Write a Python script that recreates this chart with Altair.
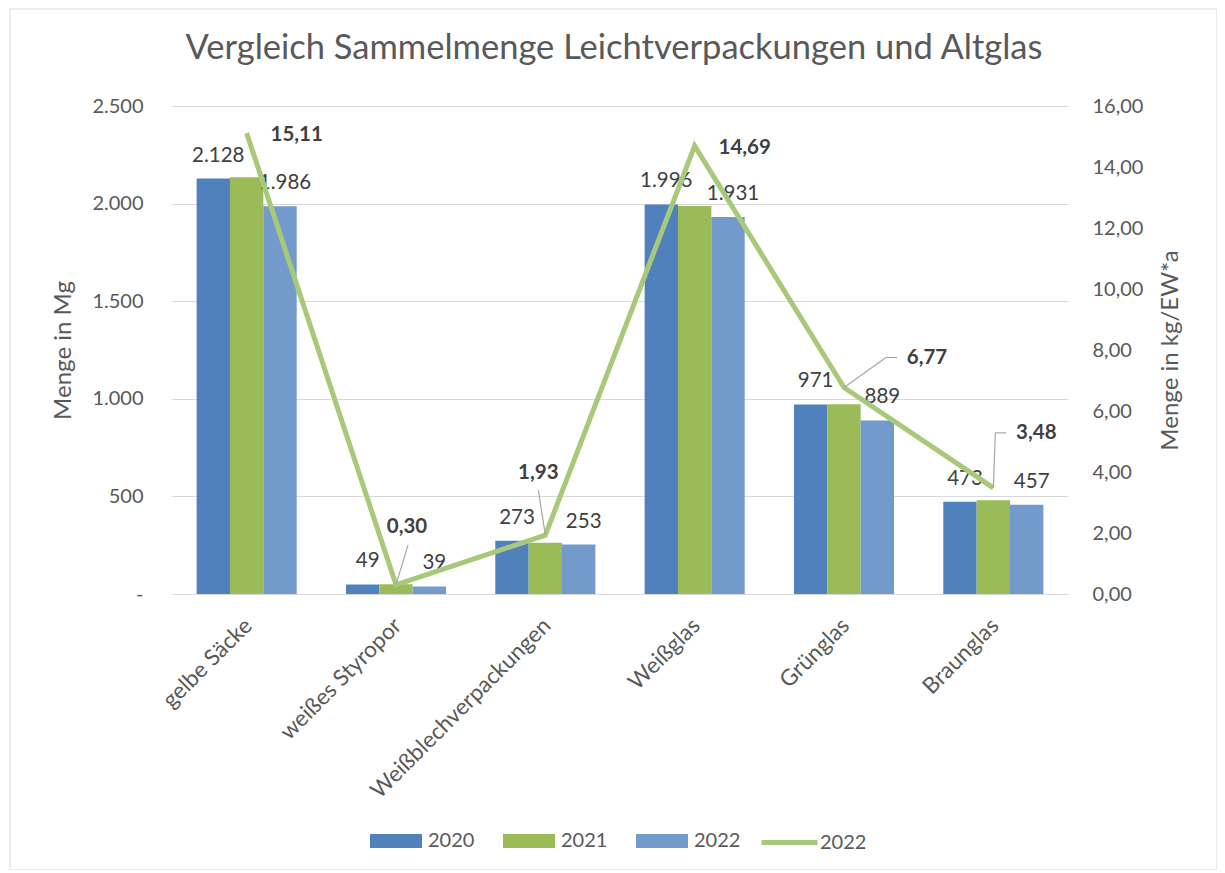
import altair as alt
import pandas as pd

categories = ["gelbe Säcke", "weißes Styropor", "Weißblechverpackungen", "Weißglas", "Grünglas", "Braunglas"]
years = ["2020", "2021", "2022"]
mg_2020 = [2128, 49, 273, 1996, 971, 473]
mg_2021 = [2135, 50, 263, 1988, 972, 480]
mg_2022 = [1986, 39, 253, 1931, 889, 457]
kg_ew_2022 = [15.11, 0.30, 1.93, 14.69, 6.77, 3.48]

bar_colors = ["#4F81BD", "#9BBB59", "#729ACA"]
line_color = "#A9C97A"
FONT = "Lato"

rows = []
for yr, vals in zip(years, [mg_2020, mg_2021, mg_2022]):
    for c, v in zip(categories, vals):
        rows.append({"Kategorie": c, "Jahr": yr, "Menge": v})
bars_df = pd.DataFrame(rows)
line_df = pd.DataFrame({"Kategorie": categories, "kg": kg_ew_2022, "Serie": ["2022"] * len(categories)})

x_enc = alt.X(
    "Kategorie:N", sort=categories, title=None,
    scale=alt.Scale(paddingInner=0.33, paddingOuter=0.165),
    axis=alt.Axis(labelAngle=-45, labelFontSize=22.5, labelColor="#595959", labelPadding=20,
                  labelOffset=-6, ticks=False, domainColor="#D9D9D9", domainWidth=1, labelLimit=400),
)
xoff = alt.XOffset("Jahr:N", sort=years, scale=alt.Scale(paddingInner=0, paddingOuter=0))

y_left = alt.Y(
    "Menge:Q", scale=alt.Scale(domain=[0, 2500], nice=False),
    axis=alt.Axis(title="Menge in Mg", values=[0, 500, 1000, 1500, 2000, 2500],
                  labelExpr="datum.value == 0 ? '-' : replace(format(datum.value, ','), ',', '.')",
                  grid=True, gridColor="#D9D9D9", domain=False, ticks=False,
                  labelPadding=29, titlePadding=16, labelFontSize=20, titleFontSize=24,
                  labelColor="#595959", titleColor="#595959", titleFontWeight="normal"),
)
y_right = alt.Y(
    "kg:Q", scale=alt.Scale(domain=[0, 16], nice=False),
    axis=alt.Axis(title="Menge in kg/EW*a", orient="right", values=[0, 2, 4, 6, 8, 10, 12, 14, 16],
                  labelExpr="replace(format(datum.value, '.2f'), '.', ',')",
                  grid=False, domain=False, ticks=False, titleAngle=270,
                  labelPadding=24, titlePadding=40, labelFontSize=20, titleFontSize=24,
                  labelColor="#595959", titleColor="#595959", titleFontWeight="normal"),
)

bars = alt.Chart(bars_df).mark_bar().encode(
    x=x_enc, xOffset=xoff, y=y_left,
    color=alt.Color("Jahr:N", scale=alt.Scale(domain=years, range=bar_colors),
                    legend=alt.Legend(title=None, orient="none", legendX=198, legendY=709,
                                      direction="horizontal",
                                      symbolType="M-1,-0.27L1,-0.27L1,0.27L-1,0.27Z",
                                      symbolSize=2704, symbolStrokeWidth=0, symbolOpacity=1,
                                      labelFontSize=20, labelColor="#595959",
                                      columnPadding=28, labelOffset=6)),
)
bar_text = alt.Chart(bars_df).transform_filter("datum.Jahr != '2021'").transform_calculate(
    label="replace(format(datum.Menge, ','), ',', '.')"
).mark_text(baseline="bottom", dy=-13, dx=5, fontSize=20.5, color="#404040").encode(
    x=x_enc, xOffset=xoff, y=y_left, text="label:N"
)
left = alt.layer(bars, bar_text)

line = alt.Chart(line_df).mark_line(strokeWidth=5).encode(
    x=x_enc, y=y_right,
    stroke=alt.Stroke("Serie:N", scale=alt.Scale(domain=["2022"], range=[line_color]),
                      legend=alt.Legend(title=None, orient="none", legendX=587, legendY=706,
                                        symbolType="stroke", symbolSize=3136, symbolStrokeWidth=5,
                                        labelFontSize=20, labelColor="#595959", labelOffset=0)),
)

# label placement (pixel offsets from the data point)
label_offsets = {
    "gelbe Säcke": (50, 2),
    "weißes Styropor": (11, -58),
    "Weißblechverpackungen": (-7, -62),
    "Weißglas": (50, 2),
    "Grünglas": (83, -30),
    "Braunglas": (43, -55),
}
# leader line segments (pixel offsets from the data point): (x1, y1, x2, y2)
leader_segments = {
    "weißes Styropor": [(0, 0, 12, -40)],
    "Weißblechverpackungen": [(0, 0, -7, -45)],
    "Grünglas": [(0, 0, 42, -30), (42, -30, 53, -30)],
    "Braunglas": [(0, 0, 2, -55), (2, -55, 13, -55)],
}

line_labels = []
for cat in categories:
    ddx, ddy = label_offsets[cat]
    line_labels.append(
        alt.Chart(line_df).transform_filter(alt.datum.Kategorie == cat).transform_calculate(
            label="replace(format(datum.kg, '.2f'), '.', ',')"
        ).mark_text(fontSize=20.5, fontWeight="bold", color="#404040", dx=ddx, dy=ddy,
                    baseline="middle", align="center").encode(x=x_enc, y=y_right, text="label:N")
    )
leaders = []
for cat, segs in leader_segments.items():
    for (ax, ay, bx, by) in segs:
        leaders.append(
            alt.Chart(line_df).transform_filter(alt.datum.Kategorie == cat).mark_rule(
                color="#A6A6A6", strokeWidth=1.2,
                xOffset=ax, yOffset=ay, x2Offset=bx, y2Offset=by,
            ).encode(x=x_enc, x2=alt.X2("Kategorie:N"), y=y_right, y2=alt.Y2("kg:Q"))
        )
right = alt.layer(line, *leaders, *line_labels)

border = alt.Chart(pd.DataFrame({"a": [0]})).mark_rect(fill=None, stroke="#D9D9D9", strokeWidth=1).encode(
    x=alt.value(-162), x2=alt.value(1045), y=alt.value(-97), y2=alt.value(764)
)

chart = alt.layer(border, left, right).resolve_scale(y="independent").properties(
    width=896, height=488,
    autosize=alt.AutoSizeParams(type="none"),
    padding={"left": 164, "top": 98, "right": 149, "bottom": 276},
    title=alt.Title("Vergleich Sammelmenge Leichtverpackungen und Altglas", fontSize=34.5,
                    fontWeight="normal", color="#595959", anchor="middle", frame="group",
                    offset=-58, dx=-6),
).configure(font=FONT).configure_view(stroke=None)

chart.save("out.html", embed_options={"renderer": "svg", "actions": False})
